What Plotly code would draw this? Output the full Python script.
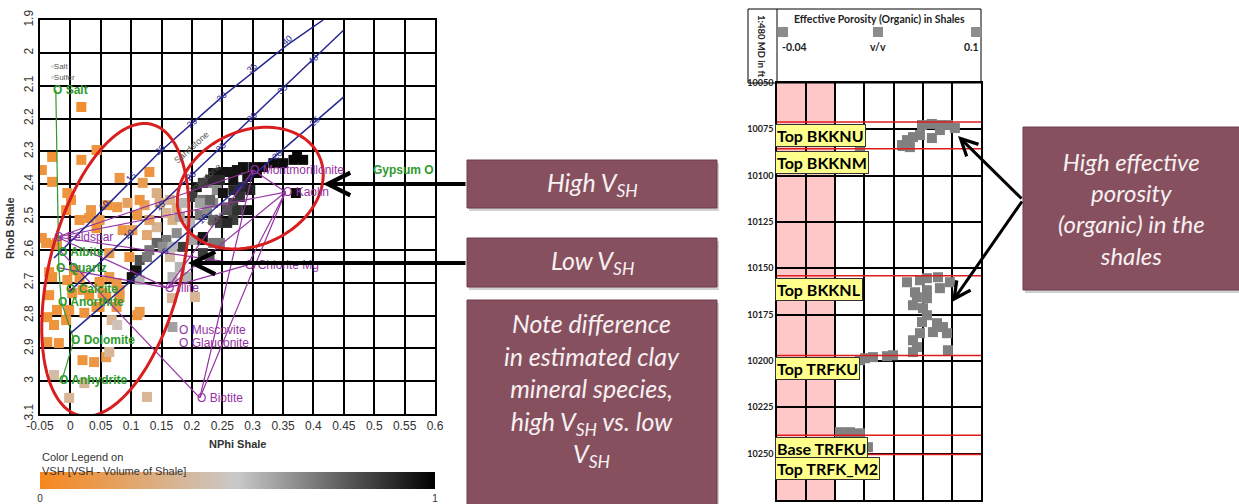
import numpy as np
import plotly.graph_objects as go

W, H = 1239, 504

# ---------------- crossplot samples (NPhi v/v, RhoB g/cc, VSH) ----------------
nphi = [0.018, -0.030, -0.047, -0.030, 0.043, 0.018, 0.081, 0.130, 0.119, -0.005,
        0.001, -0.007, 0.034, 0.077, 0.094, 0.122, 0.142, 0.147, 0.164, 0.158,
        0.175, 0.168, 0.142, 0.130, 0.102, 0.086, 0.126, -0.022, 0.064, 0.097,
        0.015, 0.031, 0.048, 0.061, 0.110, 0.114, 0.043, -0.040, -0.035, -0.030,
        0.006, 0.015, 0.048, 0.064, 0.081, 0.059, 0.031, -0.035, -0.022, -0.038,
        -0.027, -0.007, 0.023, 0.048, 0.068, 0.077, 0.110, -0.038, -0.019, 0.020,
        0.039, 0.059, 0.064, 0.023, -0.002, 0.126, -0.027, -0.005, 0.003, 0.020,
        0.053, 0.076, 0.081, 0.043, 0.076, 0.114, -0.002, 0.167, 0.205, 0.168,
        -0.047, -0.024,
        0.208, 0.225, 0.241, 0.201, 0.218, 0.235, 0.251, 0.258, 0.268, 0.185,
        0.180, 0.213, 0.235, 0.197, 0.175, 0.158, 0.142, 0.130, 0.114, 0.109,
        0.101, 0.126, 0.152, 0.168, 0.185, 0.213, 0.218, 0.246, 0.229, 0.180,
        0.191, 0.168, 0.114, 0.164, 0.383, 0.367, 0.350, 0.334, 0.317, 0.301,
        0.284, 0.274, 0.263, 0.251, 0.235, 0.230, 0.218, 0.246, 0.268, 0.291,
        0.307, 0.284, 0.296, 0.268, 0.279, 0.268, 0.274, 0.258, 0.246, 0.258,
        0.225, 0.213, 0.230, 0.371, 0.291, 0.218, 0.235, 0.201, 0.373]
rhob = [2.165, 2.317, 2.357, 2.393, 2.296, 2.326, 2.381, 2.363, 2.396, 2.427,
        2.448, 2.479, 2.479, 2.470, 2.457, 2.464, 2.427, 2.457, 2.448, 2.488,
        2.473, 2.509, 2.531, 2.509, 2.540, 2.540, 2.555, 2.579, 2.610, 2.622,
        2.509, 2.503, 2.509, 2.464, 2.494, 2.448, 2.534, 2.579, 2.668, 2.683,
        2.662, 2.686, 2.698, 2.683, 2.722, 2.744, 2.738, 2.738, 2.783, 2.805,
        2.829, 2.814, 2.792, 2.774, 2.814, 2.829, 2.799, 2.881, 2.884, 2.936,
        2.942, 2.927, 2.911, 3.006, 3.051, 3.048, 2.981, 2.692, 2.732, 2.722,
        2.732, 2.701, 2.744, 2.774, 2.774, 2.789, 2.783, 2.747, 2.744, 2.835,
        2.564, 2.585,
        2.409, 2.396, 2.418, 2.439, 2.448, 2.457, 2.427, 2.470, 2.509, 2.457,
        2.500, 2.494, 2.509, 2.518, 2.549, 2.570, 2.579, 2.601, 2.631, 2.662,
        2.683, 2.622, 2.591, 2.591, 2.591, 2.570, 2.610, 2.579, 2.631, 2.652,
        2.683, 2.683, 2.692, 2.622, 2.326, 2.326, 2.336, 2.336, 2.348, 2.348,
        2.348, 2.357, 2.363, 2.363, 2.366, 2.387, 2.396, 2.387, 2.387, 2.378,
        2.366, 2.409, 2.418, 2.418, 2.439, 2.457, 2.479, 2.479, 2.518, 2.518,
        2.479, 2.457, 2.448, 2.427, 2.479, 2.561, 2.579, 2.570, 2.317]
vsh = [0.05, 0.08, 0.08, 0.10, 0.10, 0.08, 0.12, 0.10, 0.15, 0.10,
       0.10, 0.08, 0.12, 0.12, 0.20, 0.18, 0.30, 0.30, 0.32, 0.35,
       0.30, 0.30, 0.35, 0.20, 0.15, 0.12, 0.25, 0.10, 0.12, 0.10,
       0.10, 0.10, 0.12, 0.10, 0.12, 0.10, 0.08, 0.10, 0.10, 0.08,
       0.10, 0.10, 0.10, 0.12, 0.10, 0.10, 0.08, 0.08, 0.10, 0.08,
       0.10, 0.08, 0.10, 0.10, 0.35, 0.45, 0.10, 0.10, 0.10, 0.10,
       0.12, 0.15, 0.35, 0.35, 0.35, 0.35, 0.40, 0.10, 0.10, 0.10,
       0.10, 0.12, 0.12, 0.10, 0.12, 0.12, 0.10, 0.35, 0.35, 0.60,
       0.10, 0.10,
       0.95, 0.70, 0.65, 0.85, 0.70, 0.65, 0.95, 0.70, 0.85, 0.55,
       0.60, 0.70, 0.75, 0.55, 0.65, 0.70, 0.75, 0.70, 0.80, 0.95,
       0.95, 0.70, 0.65, 0.55, 0.85, 0.95, 0.85, 0.70, 0.80, 0.55,
       0.55, 0.55, 0.55, 0.40, 0.98, 0.98, 0.97, 0.97, 0.97, 0.96,
       0.96, 0.95, 0.95, 0.95, 0.95, 0.90, 0.85, 0.90, 0.95, 0.95,
       0.97, 0.90, 0.92, 0.90, 0.88, 0.85, 0.88, 0.80, 0.85, 0.90,
       0.65, 0.60, 0.75, 0.98, 0.95, 0.95, 0.70, 0.60, 0.98]

x_tickvals = [-0.05, 0, 0.05, 0.1, 0.15, 0.2, 0.25, 0.3, 0.35, 0.4, 0.45, 0.5, 0.55, 0.6]
x_ticktext = ['-0.05', '0', '0.05', '0.1', '0.15', '0.2', '0.25', '0.3', '0.35', '0.4',
              '0.45', '0.5', '0.55', '0.6']
y_tickvals = [1.9, 2.0, 2.1, 2.2, 2.3, 2.4, 2.5, 2.6, 2.7, 2.8, 2.9, 3.0, 3.1]
y_ticktext = ['1.9', '2', '2.1', '2.2', '2.3', '2.4', '2.5', '2.6', '2.7', '2.8', '2.9', '3', '3.1']

# mineral end points
mineral_name = ['Salt', 'Gypsum', 'Feldspar', 'Albite', 'Quartz', 'Calcite', 'Anorthite',
                'Dolomite', 'Anhydrite', 'Montmorillonite', 'Kaolin', 'Chlorite Mg',
                'Illite', 'Muscovite', 'Glauconite', 'Biotite']
mineral_nphi = [-0.024, 0.594, -0.022, -0.015, -0.019, -0.002, -0.015, 0.006, -0.014,
                0.301, 0.354, 0.292, 0.160, 0.183, 0.183, 0.213]
mineral_rhob = [2.113, 2.357, 2.561, 2.607, 2.655, 2.718, 2.758, 2.875, 2.997,
                2.357, 2.424, 2.646, 2.716, 2.844, 2.884, 3.051]
mineral_clay = [False, False, True, False, False, False, False, False, False,
                True, True, True, True, True, True, True]

green_links = [('Salt', 'Quartz'), ('Quartz', 'Anorthite'), ('Anorthite', 'Dolomite'),
               ('Dolomite', 'Anhydrite')]
purple_links = [('Feldspar', 'Montmorillonite'), ('Feldspar', 'Kaolin'), ('Feldspar', 'Illite'),
                ('Feldspar', 'Chlorite Mg'), ('Albite', 'Biotite'), ('Quartz', 'Illite'),
                ('Illite', 'Montmorillonite'), ('Illite', 'Kaolin'), ('Illite', 'Chlorite Mg'),
                ('Kaolin', 'Chlorite Mg'), ('Montmorillonite', 'Kaolin'),
                ('Kaolin', 'Biotite'), ('Montmorillonite', 'Biotite')]

# lithology lines
sand_nphi = [-0.027, 0.0525, 0.147, 0.249, 0.357, 0.416]
sand_rhob = [2.625, 2.479, 2.302, 2.135, 1.976, 1.90]
lime_nphi = [-0.002, 0.4495]
lime_rhob = [2.728, 1.931]
dolo_nphi = [0.001, 0.4495]
dolo_rhob = [2.853, 2.135]

por_lbl_text = ['10', '15', '20', '25', '30', '35', '40',
                '10', '15', '20', '25', '30', '35', '40',
                '5', '10', '15', '20', '25']
por_lbl_nphi = [0.056, 0.1005, 0.147, 0.200, 0.249, 0.299, 0.357,
                0.097, 0.147, 0.198, 0.248, 0.299, 0.349, 0.400,
                0.157, 0.218, 0.279, 0.340, 0.403]
por_lbl_rhob = [2.464, 2.378, 2.296, 2.214, 2.135, 2.046, 1.961,
                2.553, 2.465, 2.375, 2.287, 2.196, 2.109, 2.018,
                2.605, 2.506, 2.408, 2.310, 2.209]
litho_name = ['Sandstone', 'limestone', 'Dolomite']
litho_nphi = [0.200, 0.222, 0.250]
litho_rhob = [2.287, 2.381, 2.488]

# ---------------- log track (effective porosity vs MD) ----------------
phie = [0.0595, 0.0663, 0.0718, 0.0773, 0.0821, 0.0718, 0.0663, 0.0581, 0.0533, 0.0492,
        0.0458, 0.0464, 0.0512, 0.0169,
        0.0492, 0.0581, 0.0629, 0.0705, 0.0787, 0.0629, 0.0718, 0.0547, 0.0560, 0.0629,
        0.0533, 0.0602, 0.0629, 0.0595, 0.0698, 0.0739, 0.0670, 0.0766, 0.0581, 0.0533,
        0.0560, 0.0533, 0.0773, 0.0396, 0.0355, 0.0259, 0.0204, 0.0169,
        0.0032, 0.0101, 0.0169, 0.0224]
md = [10072.7, 10072.1, 10072.7, 10072.7, 10074.3, 10075.4, 10079.7, 10078.1, 10079.2, 10080.8,
      10083.5, 10084.0, 10084.6, 10084.6,
      10157.5, 10156.4, 10155.3, 10154.8, 10157.5, 10161.8, 10160.7, 10162.9, 10165.6, 10166.1,
      10169.9, 10171.5, 10175.3, 10179.0, 10179.6, 10181.7, 10184.4, 10185.0, 10185.0, 10188.8,
      10192.5, 10195.2, 10194.2, 10196.9, 10197.4, 10197.9, 10198.5, 10199.6,
      10238.4, 10238.4, 10239.0, 10246.5]
depth_ticks = [10050, 10075, 10100, 10125, 10150, 10175, 10200, 10225, 10250, 10275]
tops_name = ['Top BKKNU', 'Top BKKNM', 'Top BKKNL', 'Top TRFKU', 'Base TRFKU', 'Top TRFK_M2']
tops_md = [10071, 10085.5, 10154, 10197, 10240, 10250.5]


def px(x):
    return x / W


def py(y):
    return 1 - y / H


# crossplot frame (pixels) -> scale used to draw the round ellipses
XP0, XP1, YP0, YP1 = 40, 435, 20, 414
SX = (XP1 - XP0) / 0.65
SY = (YP1 - YP0) / 1.2


def ellipse_path(cx, cy, a, b, ang):
    t = np.linspace(0, 2 * np.pi, 90)
    c, s = np.cos(np.radians(ang)), np.sin(np.radians(ang))
    dx = a * np.cos(t) * c + b * np.sin(t) * s
    dy = -a * np.cos(t) * s + b * np.sin(t) * c
    xs = cx + dx / SX
    ys = cy + dy / SY
    return 'M ' + ' L '.join(f'{x:.4f},{y:.4f}' for x, y in zip(xs, ys)) + ' Z'


VSH_SCALE = [[0, '#f7871c'], [0.5, '#c9c9c9'], [1, '#000000']]
PURPLE = '#9532a3'
GREEN = '#2f9a2f'
NAVY = '#262690'
TICKFONT = dict(family='Liberation Sans', size=12, color='#333333')

fig = go.Figure()

fig.add_trace(go.Scatter(
    x=nphi, y=rhob, mode='markers', hoverinfo='skip',
    marker=dict(symbol='square', size=10, color=vsh, cmin=0, cmax=1,
                colorscale=VSH_SCALE, line=dict(width=0),
                colorbar=dict(orientation='h', x=px(40), xanchor='left',
                              y=py(472), yanchor='top', len=395, lenmode='pixels',
                              thickness=17, xpad=0, ypad=0, outlinewidth=0,
                              tickvals=[0, 1], ticktext=['0', '1'], ticks='',
                              tickfont=dict(family='Liberation Sans', size=10, color='#333')))
))

# mineral connection lines
pos = {n: (x, y) for n, x, y in zip(mineral_name, mineral_nphi, mineral_rhob)}
for links, col in ((purple_links, PURPLE), (green_links, GREEN)):
    lx, ly = [], []
    for a, b in links:
        lx += [pos[a][0], pos[b][0], None]
        ly += [pos[a][1], pos[b][1], None]
    fig.add_trace(go.Scatter(x=lx, y=ly, mode='lines', hoverinfo='skip',
                             line=dict(color=col, width=1.2)))

for xs, ys in ((sand_nphi, sand_rhob), (lime_nphi, lime_rhob), (dolo_nphi, dolo_rhob)):
    fig.add_trace(go.Scatter(x=xs, y=ys, mode='lines', hoverinfo='skip',
                             line=dict(color=NAVY, width=1.5)))

# log track porosity
fig.add_trace(go.Scatter(x=phie, y=md, mode='markers', hoverinfo='skip',
                         xaxis='x2', yaxis='y2',
                         marker=dict(symbol='square', size=10, color='#808080')))

shapes = []
annotations = []

# ellipses around low / high VSH clouds
shapes.append(dict(type='path', xref='x', yref='y', layer='above',
                   path=ellipse_path(0.074, 2.661, 150, 66, 76),
                   line=dict(color='#d81e1e', width=3)))
shapes.append(dict(type='path', xref='x', yref='y', layer='above',
                   path=ellipse_path(0.296, 2.412, 76, 57, 25),
                   line=dict(color='#d81e1e', width=3)))

# mineral labels
for n, x, y, clay in zip(mineral_name, mineral_nphi, mineral_rhob, mineral_clay):
    col = PURPLE if clay else GREEN
    if n == 'Gypsum':
        annotations.append(dict(x=x, y=y, xref='x', yref='y', text=f'<b>{n} O</b>',
                                showarrow=False, xanchor='right', xshift=5,
                                font=dict(family='Liberation Sans', size=12, color=col)))
    else:
        txt = f'O {n}' if clay else f'<b>O {n}</b>'
        annotations.append(dict(x=x, y=y, xref='x', yref='y', text=txt,
                                showarrow=False, xanchor='left', xshift=-5,
                                font=dict(family='Liberation Sans', size=12, color=col)))

for t, x, y in zip(por_lbl_text, por_lbl_nphi, por_lbl_rhob):
    annotations.append(dict(x=x, y=y, xref='x', yref='y', text=t, showarrow=False,
                            textangle=-42, font=dict(family='Liberation Sans', size=9, color=NAVY)))
for t, x, y in zip(litho_name, litho_nphi, litho_rhob):
    annotations.append(dict(x=x, y=y, xref='x', yref='y', text=t, showarrow=False,
                            textangle=-42, font=dict(family='Liberation Sans', size=9, color='#555')))

annotations += [
    dict(x=px(49), y=py(67), xref='paper', yref='paper', xanchor='left', showarrow=False,
         text='\u25e6Salt', font=dict(family='Liberation Sans', size=8, color='#555')),
    dict(x=px(49), y=py(77), xref='paper', yref='paper', xanchor='left', showarrow=False,
         text='\u25e6Sulfer', font=dict(family='Liberation Sans', size=8, color='#555')),
    dict(x=px(237), y=py(444), xref='paper', yref='paper', showarrow=False,
         text='<b>NPhi Shale</b>', font=dict(family='Liberation Sans', size=11, color='#333')),
    dict(x=px(10), y=py(228), xref='paper', yref='paper', showarrow=False, textangle=-90,
         text='<b>RhoB Shale</b>', font=dict(family='Liberation Sans', size=11, color='#333')),
    dict(x=px(40), y=py(449), xref='paper', yref='paper', xanchor='left', yanchor='top',
         showarrow=False, align='left',
         text='Color Legend on<br>VSH [VSH - Volume of Shale]',
         font=dict(family='Liberation Sans', size=11, color='#333')),
]

# ---- log track decorations ----
shapes.append(dict(type='rect', xref='x2', yref='y2', x0=-0.04, x1=0.0, y0=10050, y1=10275,
                   fillcolor='#ffc8c8', line=dict(width=0), layer='below'))
for name, d in zip(tops_name, tops_md):
    shapes.append(dict(type='line', xref='x2', yref='y2', x0=-0.04, x1=0.1, y0=d, y1=d,
                       line=dict(color='#e01b1b', width=1.5)))
    annotations.append(dict(x=px(775), y=d, xref='paper', yref='y2', xanchor='left',
                            yanchor='top', yshift=-2, showarrow=False, text=f'<b>{name}</b>',
                            bgcolor='#ffff8c', bordercolor='#333', borderwidth=1, borderpad=1,
                            font=dict(family='Lato', size=16, color='black')))

shapes += [
    dict(type='rect', xref='paper', yref='paper', x0=px(748), x1=px(981), y0=py(83), y1=py(9),
         line=dict(color='black', width=1)),
    dict(type='line', xref='paper', yref='paper', x0=px(777), x1=px(777), y0=py(83), y1=py(9),
         line=dict(color='black', width=1)),
]
for cx in (783, 878, 976):
    shapes.append(dict(type='rect', xref='paper', yref='paper', x0=px(cx - 5), x1=px(cx + 5),
                       y0=py(37), y1=py(27), fillcolor='#8c8c8c', line=dict(width=0)))
hdr_font = dict(family='Lato', size=10.5, color='#222')
annotations += [
    dict(x=px(762), y=py(46), xref='paper', yref='paper', showarrow=False, textangle=90,
         text='<b>1:480 MD in ft</b>', font=dict(family='Lato', size=9.5, color='#222')),
    dict(x=px(879), y=py(19), xref='paper', yref='paper', showarrow=False,
         text='<b>Effective Porosity (Organic) in Shales</b>', font=hdr_font),
    dict(x=px(780), y=py(47), xref='paper', yref='paper', showarrow=False, xanchor='left',
         text='<b>-0.04</b>', font=hdr_font),
    dict(x=px(878), y=py(47), xref='paper', yref='paper', showarrow=False,
         text='<b>v/v</b>', font=hdr_font),
    dict(x=px(981), y=py(47), xref='paper', yref='paper', showarrow=False, xanchor='right',
         text='<b>0.1</b>', font=hdr_font),
]

# ---- callout boxes ----
BOX = '#87505f'
boxes = [(467, 160, 717, 208), (467, 238, 717, 287), (467, 300, 717, 515), (1023, 127, 1245, 290)]
for x0, y0, x1, y1 in boxes:
    shapes.append(dict(type='rect', xref='paper', yref='paper', x0=px(x0 + 2), x1=px(x1 + 2),
                       y0=py(y1 + 3), y1=py(y0 + 3), fillcolor='rgba(0,0,0,0.18)', line=dict(width=0)))
    shapes.append(dict(type='rect', xref='paper', yref='paper', x0=px(x0), x1=px(x1),
                       y0=py(y1), y1=py(y0), fillcolor=BOX, line=dict(color='#6e3a4a', width=1)))

box_font = dict(family='Lato', size=25, color='#f7f0f2')
annotations += [
    dict(x=px(592), y=py(184), xref='paper', yref='paper', showarrow=False,
         text='<i>High V<sub>SH</sub></i>', font=box_font),
    dict(x=px(592), y=py(262), xref='paper', yref='paper', showarrow=False,
         text='<i>Low V<sub>SH</sub></i>', font=box_font),
    dict(x=px(592), y=py(306), xref='paper', yref='paper', showarrow=False, yanchor='top',
         text='<i>Note difference<br>in estimated clay<br>mineral species,<br>'
              'high V<sub>SH</sub> vs. low<br>V<sub>SH</sub></i>', font=box_font),
    dict(x=px(1131), y=py(208), xref='paper', yref='paper', showarrow=False,
         text='<i>High effective<br>porosity<br>(organic) in the<br>shales</i>',
         font=dict(box_font, size=24)),
]

# ---- arrows ----
arrow = dict(xref='paper', yref='paper', text='', showarrow=True, arrowhead=5,
             arrowsize=1.1, arrowwidth=4, arrowcolor='black')
annotations += [
    dict(arrow, x=px(323), y=py(184), ax=144, ay=0),
    dict(arrow, x=px(188), y=py(263), ax=279, ay=0),
    dict(arrow, x=px(958), y=py(136), ax=65, ay=64, arrowwidth=3),
    dict(arrow, x=px(952), y=py(302), ax=71, ay=-102, arrowwidth=3),
]

# paper-anchored labels: keep the anchor where it is written, never "auto"
for a in annotations:
    a.setdefault('xanchor', 'center')
    a.setdefault('yanchor', 'middle')

grid = dict(showgrid=True, gridcolor='black', gridwidth=1.5, zeroline=False, showline=True,
            linecolor='black', linewidth=1.5, mirror=True, ticks='', automargin=False)

fig.update_layout(
    width=W, height=H,
    margin=dict(l=0, r=0, t=0, b=0, autoexpand=False),
    paper_bgcolor='white', plot_bgcolor='white',
    showlegend=False,
    xaxis=dict(grid, domain=[px(XP0), px(XP1)], range=[-0.05, 0.6], anchor='y',
               tickvals=x_tickvals, ticktext=x_ticktext, tickfont=TICKFONT),
    yaxis=dict(grid, domain=[py(YP1), py(YP0)], range=[3.1, 1.9], anchor='x',
               tickvals=y_tickvals, ticktext=y_ticktext, tickangle=-90, tickfont=TICKFONT),
    xaxis2=dict(grid, domain=[px(777), px(981)], range=[-0.04, 0.1], anchor='y2',
                tick0=-0.04, dtick=0.02, showticklabels=False),
    yaxis2=dict(grid, domain=[py(500), py(83)], range=[10275, 10050], anchor='x2',
                tickvals=depth_ticks, ticktext=[f'<b>{d}</b>' for d in depth_ticks],
                tickfont=dict(family='Lato', size=9, color='#222')),
    shapes=shapes,
    annotations=annotations,
)

fig.write_html("out.html", config={'displayModeBar': False},
               post_script="document.body.style.margin='0';")
